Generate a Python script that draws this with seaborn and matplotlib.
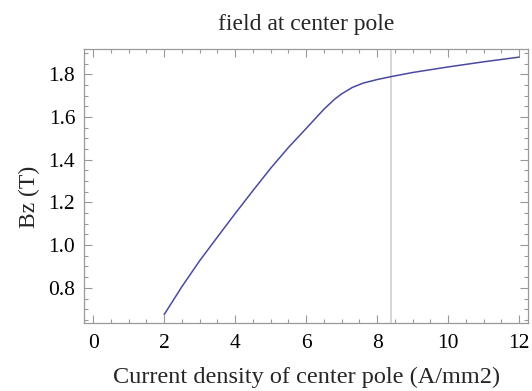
import matplotlib
matplotlib.use("Agg")
import matplotlib.pyplot as plt
from matplotlib.ticker import MultipleLocator
import seaborn as sns
import pandas as pd

current_density = [2.0, 2.5, 3.0, 3.5, 4.0, 4.5, 5.0, 5.5, 6.0, 6.5, 6.8, 7.0, 7.3, 7.6, 8.0, 8.4, 9.0, 10.0, 11.0, 12.0]
bz = [0.675, 0.806, 0.927, 1.038, 1.148, 1.255, 1.36, 1.457, 1.546, 1.636, 1.683, 1.708, 1.738, 1.758, 1.775, 1.789, 1.808, 1.834, 1.858, 1.880]
marker_x = 8.4
x_ticks = [0, 2, 4, 6, 8, 10, 12]
y_ticks = [0.8, 1.0, 1.2, 1.4, 1.6, 1.8]

sns.set_style("ticks")
plt.rcParams['font.family'] = ['Liberation Serif', 'DejaVu Serif']

df = pd.DataFrame({"J": current_density, "Bz": bz})

fig = plt.figure(figsize=(5.32, 3.91), dpi=100)
ax = fig.add_axes([0.1585, 0.1747, 0.834, 0.700])

ax.axvline(marker_x, color="#d0d0d0", lw=1.2, zorder=1)
sns.lineplot(data=df, x="J", y="Bz", ax=ax, color="#4a4aa2", lw=1.1, zorder=2)

ax.set_xlim(-0.25, 12.25)
ax.set_ylim(0.637, 1.918)
ax.set_xticks(x_ticks)
ax.set_yticks(y_ticks)
ax.set_yticklabels([f"{v:.1f}" for v in y_ticks])
ax.xaxis.set_minor_locator(MultipleLocator(0.5))
ax.yaxis.set_minor_locator(MultipleLocator(0.05))
ax.tick_params(which="both", direction="in", top=True, right=True, colors="#999999",
               labelcolor="black", labelsize=15.5, width=0.8)
ax.tick_params(which="major", length=6)
ax.tick_params(which="minor", length=3)
ax.tick_params(axis="x", which="major", pad=8.5)
ax.tick_params(axis="y", which="major", pad=6.5)
for s in ax.spines.values():
    s.set_color("#999999")
    s.set_linewidth(0.9)

ax.set_xlabel("Current density of center pole (A/mm2)", fontsize=17.5)
ax.xaxis.set_label_coords(0.5, -0.16)
ax.set_ylabel("Bz (T)", fontsize=17)
ax.yaxis.set_label_coords(-0.099, 0.46)
ax.set_title("field at center pole", fontsize=17, pad=14)

fig.savefig("out.png", dpi=100)
